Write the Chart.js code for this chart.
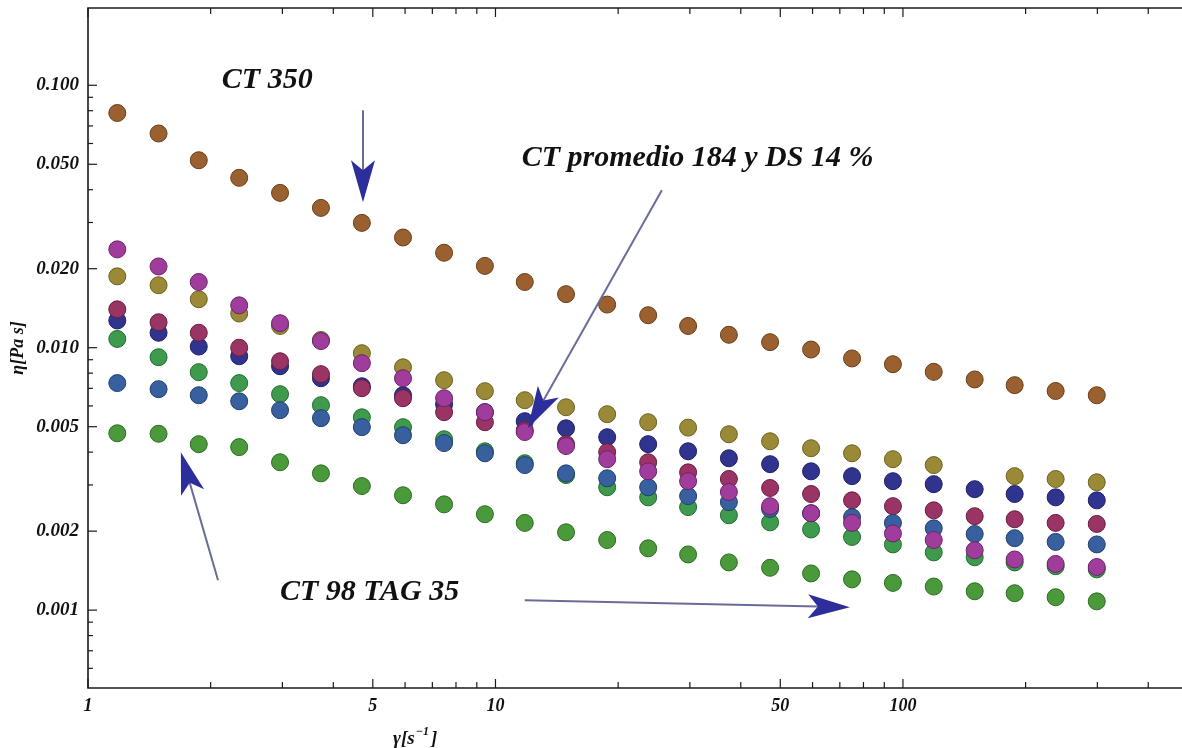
<!DOCTYPE html>
<html>
<head>
<meta charset="utf-8">
<script src="https://cdn.jsdelivr.net/npm/chart.js@4.4.1/dist/chart.umd.min.js"></script>
<style>
  html, body { margin: 0; padding: 0; background: #fff; }
  #wrap { width: 1182px; height: 748px; }
</style>
</head>
<body>
<div id="wrap"><canvas id="chart"></canvas></div>
<script>
// shear rate [1/s], one entry per measured column
const shearRate = [1.18, 1.49, 1.87, 2.35, 2.96, 3.73, 4.70, 5.93, 7.48, 9.42, 11.8, 14.9, 18.8,
  23.7, 29.7, 37.4, 47.2, 59.5, 75.0, 94.5, 119, 150, 188, 237, 299];

// viscosity [Pa s] per sample
const etaDarkBlue = [0.0127, 0.0114, 0.0101, 0.00928, 0.00850, 0.00765, 0.00713, 0.00659, 0.00609, 0.00568,
  0.00525, 0.00493, 0.00456, 0.00429, 0.00403, 0.00379, 0.00360, 0.00338, 0.00324, 0.00310, 0.00302,
  0.00289, 0.00277, 0.00269, 0.00262];
const etaMaroon = [0.0140, 0.0125, 0.0114, 0.0100, 0.00888, 0.00793, 0.00701, 0.00642, 0.00568, 0.00520,
  0.00485, 0.00429, 0.00400, 0.00366, 0.00335, 0.00316, 0.00292, 0.00277, 0.00262, 0.00249, 0.00240,
  0.00228, 0.00222, 0.00215, 0.00213];
const etaOlive = [0.0187, 0.0173, 0.0153, 0.0135, 0.0121, 0.0107, 0.00953, 0.00842, 0.00752, 0.00683,
  0.00631, 0.00593, 0.00558, 0.00520, 0.00496, 0.00468, 0.00440, 0.00414, 0.00396, 0.00376, 0.00357,
  null, 0.00324, 0.00316, 0.00307];
const etaGreen = [0.0108, 0.00920, 0.00807, 0.00733, 0.00665, 0.00604, 0.00543, 0.00498, 0.00448, 0.00403,
  0.00363, 0.00327, 0.00294, 0.00269, 0.00247, 0.00230, 0.00216, 0.00203, 0.00190, 0.00178, 0.00166,
  0.00159, 0.00152, 0.00147, 0.00143];
const etaSteel = [0.00733, 0.00695, 0.00659, 0.00625, 0.00578, 0.00539, 0.00498, 0.00464, 0.00433, 0.00396,
  0.00357, 0.00332, 0.00318, 0.00294, 0.00272, 0.00258, 0.00243, 0.00234, 0.00226, 0.00215, 0.00205,
  0.00195, 0.00188, 0.00182, 0.00178];
const etaPurple = [0.0237, 0.0204, 0.0178, 0.0145, 0.0124, 0.0106, 0.00873, 0.00765, 0.00642, 0.00568,
  0.00477, 0.00422, 0.00376, 0.00338, 0.00310, 0.00282, 0.00249, 0.00234, 0.00215, 0.00196, 0.00185,
  0.00169, 0.00156, 0.00150, 0.00146];
const etaCT350 = [0.0784, 0.0655, 0.0518, 0.0444, 0.0389, 0.0341, 0.0299, 0.0263, 0.0230, 0.0205,
  0.0178, 0.0160, 0.0146, 0.0133, 0.0121, 0.0112, 0.0105, 0.00984, 0.00910, 0.00865, 0.00809,
  0.00757, 0.00720, 0.00684, 0.00659];
const etaCT98 = [0.00472, 0.00470, 0.00429, 0.00418, 0.00366, 0.00332, 0.00297, 0.00274, 0.00253, 0.00232,
  0.00215, 0.00198, 0.00185, 0.00172, 0.00163, 0.00152, 0.00145, 0.00138, 0.00131, 0.00127, 0.00123,
  0.00118, 0.00116, 0.00112, 0.00108];

// ticks
const xMajorTicks = [1, 5, 10, 50, 100];
const xMinorTicks = [2, 3, 4, 6, 7, 8, 9, 20, 30, 40, 60, 70, 80, 90, 200, 300, 400];
const yMajorTicks = [0.001, 0.002, 0.005, 0.01, 0.02, 0.05, 0.1];
const yMinorTicks = [0.0006, 0.0007, 0.0008, 0.0009, 0.003, 0.004, 0.006, 0.007, 0.008, 0.009,
  0.03, 0.04, 0.06, 0.07, 0.08, 0.09];

// annotations, in data units
const noteTexts = ['CT 350', 'CT promedio 184 y DS 14 %', 'CT 98 TAG 35'];
const noteAt = [[2.13, 0.1045], [11.6, 0.0527], [2.96, 0.00117]];
const arrowFrom = [[4.73, 0.0803], [25.6, 0.0398], [2.085, 0.0013], [11.8, 0.00109]];
const arrowTo = [[4.73, 0.0358], [12.0, 0.00493], [1.69, 0.0040], [74.1, 0.001026]];

const serif = "'Liberation Serif', 'Times New Roman', serif";

function pts(arr) {
  return shearRate.map((x, i) => ({ x: x, y: arr[i] })).filter(p => p.y !== null);
}

const series = [
  { label: 'Muestra 1', data: etaDarkBlue, fill: '#30348f', edge: '#1d2068' },
  { label: 'Muestra 2', data: etaMaroon, fill: '#9a3464', edge: '#681d40' },
  { label: 'Muestra 3', data: etaOlive, fill: '#9a8a38', edge: '#6b601f' },
  { label: 'Muestra 4', data: etaGreen, fill: '#3e9a4c', edge: '#236b30' },
  { label: 'Muestra 5', data: etaSteel, fill: '#38609e', edge: '#203f70' },
  { label: 'Muestra 6', data: etaPurple, fill: '#a03c9c', edge: '#6c226c' },
  { label: 'CT 350', data: etaCT350, fill: '#9a6030', edge: '#683e17' },
  { label: 'CT 98 TAG 35', data: etaCT98, fill: '#4a9a3c', edge: '#2d6b22' }
];

const frameTicks = {
  id: 'frameTicks',
  afterDraw(chart) {
    const { ctx, chartArea: a } = chart;
    const x = chart.scales.x, y = chart.scales.y;
    ctx.save();
    ctx.strokeStyle = '#1a1a1a';
    ctx.lineWidth = 1.6;
    ctx.beginPath();
    ctx.moveTo(a.right, a.top);
    ctx.lineTo(a.left, a.top);
    ctx.lineTo(a.left, a.bottom);
    ctx.lineTo(a.right, a.bottom);
    ctx.stroke();

    ctx.lineWidth = 1.2;
    function tick(px, py, dx, dy) {
      ctx.beginPath();
      ctx.moveTo(px, py);
      ctx.lineTo(px + dx, py + dy);
      ctx.stroke();
    }
    xMajorTicks.forEach(v => {
      const p = x.getPixelForValue(v);
      tick(p, a.bottom, 0, -9);
      tick(p, a.top, 0, 9);
    });
    xMinorTicks.forEach(v => {
      const p = x.getPixelForValue(v);
      tick(p, a.bottom, 0, -6);
      tick(p, a.top, 0, 6);
    });
    yMajorTicks.forEach(v => tick(a.left, y.getPixelForValue(v), 9, 0));
    yMinorTicks.forEach(v => tick(a.left, y.getPixelForValue(v), 5, 0));

    // x axis title
    ctx.fillStyle = '#111';
    ctx.textBaseline = 'alphabetic';
    ctx.textAlign = 'left';
    ctx.font = 'italic bold 19px ' + serif;
    let tx = 393;
    const ty = 744;
    ctx.fillText('\u03b3[s', tx, ty);
    tx += ctx.measureText('\u03b3[s').width;
    ctx.font = 'italic bold 12px ' + serif;
    ctx.fillText('\u22121', tx + 1, ty - 9);
    tx += ctx.measureText('\u22121').width + 3;
    ctx.font = 'italic bold 19px ' + serif;
    ctx.fillText(']', tx, ty);
    ctx.restore();
  }
};

const notes = {
  id: 'notes',
  afterDatasetsDraw(chart) {
    const { ctx } = chart;
    const x = chart.scales.x, y = chart.scales.y;
    ctx.save();
    ctx.fillStyle = '#111';
    ctx.font = 'italic bold 30px ' + serif;
    ctx.textAlign = 'left';
    ctx.textBaseline = 'middle';
    noteTexts.forEach((t, i) => {
      ctx.fillText(t, x.getPixelForValue(noteAt[i][0]), y.getPixelForValue(noteAt[i][1]));
    });

    arrowFrom.forEach((f, i) => {
      const x1 = x.getPixelForValue(f[0]), y1 = y.getPixelForValue(f[1]);
      const x2 = x.getPixelForValue(arrowTo[i][0]), y2 = y.getPixelForValue(arrowTo[i][1]);
      const len = Math.hypot(x2 - x1, y2 - y1);
      const ux = (x2 - x1) / len, uy = (y2 - y1) / len;
      const nx = -uy, ny = ux;
      const L = 42, W = 12, notch = 10;
      ctx.strokeStyle = '#6a6c98';
      ctx.lineWidth = 2;
      ctx.beginPath();
      ctx.moveTo(x1, y1);
      ctx.lineTo(x2 - ux * (L - notch), y2 - uy * (L - notch));
      ctx.stroke();
      ctx.fillStyle = '#2c2e9c';
      ctx.beginPath();
      ctx.moveTo(x2, y2);
      ctx.lineTo(x2 - ux * L + nx * W, y2 - uy * L + ny * W);
      ctx.lineTo(x2 - ux * (L - notch), y2 - uy * (L - notch));
      ctx.lineTo(x2 - ux * L - nx * W, y2 - uy * L - ny * W);
      ctx.closePath();
      ctx.fill();
    });
    ctx.restore();
  }
};

new Chart(document.getElementById('chart'), {
  type: 'scatter',
  data: {
    datasets: series.map((s, i) => ({
      label: s.label,
      data: pts(s.data),
      backgroundColor: s.fill,
      borderColor: s.edge,
      borderWidth: 1,
      pointRadius: 8.5,
      pointHoverRadius: 8.5,
      order: series.length - i
    }))
  },
  options: {
    responsive: true,
    maintainAspectRatio: false,
    animation: false,
    layout: { autoPadding: false, padding: { top: 8, right: 0, left: 0, bottom: 0 } },
    plugins: {
      legend: { display: false },
      tooltip: { enabled: false }
    },
    scales: {
      x: {
        type: 'logarithmic',
        min: 1,
        max: 484,
        grid: { display: false, drawTicks: false },
        border: { display: false },
        afterBuildTicks: s => { s.ticks = xMajorTicks.map(v => ({ value: v })); },
        afterFit: s => { s.height = 60; s.paddingLeft = 0; s.paddingRight = 0; },
        ticks: {
          autoSkip: false,
          maxRotation: 0,
          padding: 8,
          color: '#111',
          font: { family: serif, size: 18, style: 'italic', weight: 'bold' },
          callback: v => String(v)
        }
      },
      y: {
        type: 'logarithmic',
        min: 0.000505,
        max: 0.197,
        grid: { display: false, drawTicks: false },
        border: { display: false },
        afterBuildTicks: s => { s.ticks = yMajorTicks.map(v => ({ value: v })); },
        afterFit: s => { s.width = 88; s.paddingTop = 0; s.paddingBottom = 0; },
        title: {
          display: true,
          text: '\u03b7[Pa s]',
          color: '#111',
          padding: { top: 8, bottom: 0 },
          font: { family: serif, size: 18, style: 'italic', weight: 'bold' }
        },
        ticks: {
          autoSkip: false,
          padding: 9,
          color: '#111',
          font: { family: serif, size: 19, style: 'italic', weight: 'bold' },
          callback: v => Number(v).toFixed(3)
        }
      }
    }
  },
  plugins: [frameTicks, notes]
});
</script>
</body>
</html>
